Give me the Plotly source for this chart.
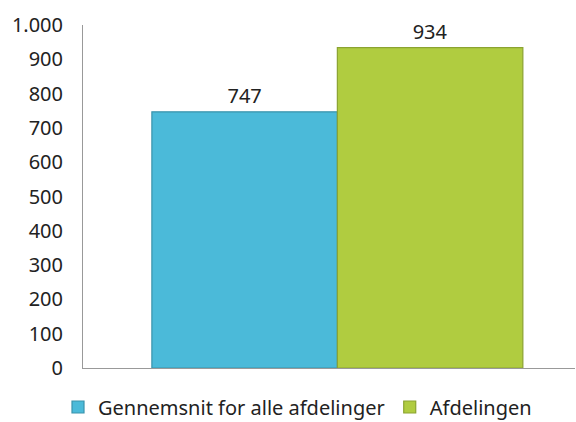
import plotly.graph_objects as go

categories = [""]
series_names = ["Gennemsnit for alle afdelinger", "Afdelingen"]
series_values = [[747], [934]]
colors = ["#4BBAD9", "#B0CC40"]
edge_colors = ["#3A93AC", "#8BA330"]
y_ticks = [0, 100, 200, 300, 400, 500, 600, 700, 800, 900, 1000]

FONT = "'Noto Sans', 'Open Sans', sans-serif"

fig = go.Figure()
for name, vals, c, e in zip(series_names, series_values, colors, edge_colors):
    fig.add_trace(go.Bar(
        x=[0] * len(vals), y=vals, name=name,
        marker=dict(color=c, line=dict(color=e, width=1.2)),
        text=vals, texttemplate="%{y:,d}", textposition="outside",
        textfont=dict(size=20, color="#222222", family=FONT),
        cliponaxis=False,
    ))

fig.update_layout(
    width=576, height=422,
    margin=dict(l=83, r=1, t=25, b=54, autoexpand=False),
    paper_bgcolor="white", plot_bgcolor="white",
    separators=",.",
    barmode="group", bargap=0.246, bargroupgap=0,
    font=dict(family=FONT, size=20, color="#222222"),
    showlegend=True,
    legend=dict(orientation="h", xref="container", x=58/576, xanchor="left",
                yref="container", y=15/422, yanchor="middle",
                font=dict(size=20, family=FONT), itemwidth=30,
                tracegroupgap=0, borderwidth=0),
    xaxis=dict(range=[-0.517, 0.483], showticklabels=False, showgrid=False,
               zeroline=False, showline=True, linecolor="#999999", linewidth=1,
               fixedrange=True),
    yaxis=dict(range=[0, 1000], tickvals=y_ticks, tickformat=",d",
               showgrid=False, zeroline=False, showline=True, linecolor="#999999",
               linewidth=1, ticks="", ticklen=0, tickfont=dict(size=20, family=FONT),
               ticklabelstandoff=15),
)

fig.write_html("out.html", post_script="document.body.style.margin='0';",
               config={"displayModeBar": False})
